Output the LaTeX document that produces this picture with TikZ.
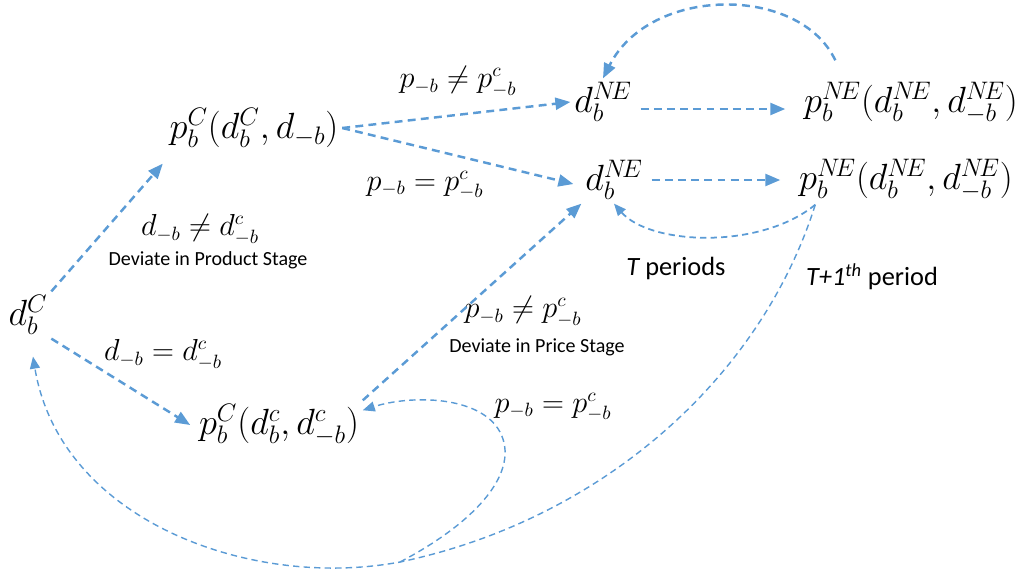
\documentclass[tikz,border=0pt]{standalone}
\usepackage{fontspec}
\newfontfamily\calib{Carlito}
\usetikzlibrary{arrows.meta}
\definecolor{sky}{RGB}{91,155,213}
\tikzset{
  >={Triangle[length=3mm,width=2.4mm]},
  state/.style={font=\fontsize{20.5}{24}\selectfont,inner sep=2pt},
  cond/.style={font=\fontsize{16}{18}\selectfont,inner sep=0pt},
  note/.style={font=\calib\fontsize{11.4}{13}\selectfont,inner sep=0pt},
  period/.style={font=\calib\fontsize{15}{17}\selectfont,inner sep=0pt},
  flow/.style={->,draw=sky,line width=1.4pt,dash pattern=on 4.5pt off 3pt},
  back/.style={-{Triangle[length=2.4mm,width=2mm]},draw=sky,line width=0.8pt,
    dash pattern=on 3.6pt off 2.4pt},
}

\begin{document}
\begin{tikzpicture}[x=0.2mm,y=-0.2mm]
  \useasboundingbox (0,0) rectangle (1026,576);
  % states
  \node[state] (dC)   at (28,315)  {$d_b^C$};
  \node[state] (pCa)  at (254,128) {$p_b^C(d_b^C,d_{-b})$};
  \node[state] (pCb)  at (279,425) {$p_b^C(d_b^c,d^c_{-b})$};
  \node[state] (dNEa) at (603,102) {$d_b^{N\!E}$};
  \node[state] (dNEb) at (614,180) {$d_b^{N\!E}$};
  \node[state] (pNEa) at (911,103) {$p_b^{N\!E}(d_b^{N\!E},d_{-b}^{N\!E})$};
  \node[state] (pNEb) at (906,180) {$p_b^{N\!E}(d_b^{N\!E},d_{-b}^{N\!E})$};
  % conditions
  \node[cond] (pneqTop) at (458,82)  {$p_{-b}\neq p^c_{-b}$};
  \node[cond] (peqTop)  at (425,185) {$p_{-b}=p^c_{-b}$};
  \node[cond] (dneq)    at (200,230) {$d_{-b}\neq d^c_{-b}$};
  \node[note] (devProd) at (208,260) {Deviate in Product Stage};
  \node[cond] (deq)     at (163,355) {$d_{-b}=d^c_{-b}$};
  \node[cond] (pneqBot) at (523,312) {$p_{-b}\neq p^c_{-b}$};
  \node[note] (devPrice) at (537,347) {Deviate in Price Stage};
  \node[cond] (peqBot)  at (553,407) {$p_{-b}=p^c_{-b}$};
  \node[period] (tPer)  at (676,268) {\itshape T\upshape\ periods};
  \node[period] (tNext) at (872,277) {\itshape T+1\textsuperscript{th}\upshape\ period};
  % transitions
  \draw[flow] (dC.north east) -- ([shift={(-3,12)}]pCa.south west);
  \draw[flow] (dC.south east) -- ([xshift=-1mm]pCb.west);
  \draw[flow] (pCa.east) -- (dNEa.west);
  \draw[flow] (pCa.east) -- ([shift={(-8,4)}]dNEb.west);
  \draw[flow] (pCb.north east) -- (dNEb.south west);
  \draw[flow,shorten <=1mm,shorten >=3mm] ([yshift=-1.4mm]dNEa.east) -- ([yshift=-1.4mm]dNEa.east -| pNEa.west);
  \draw[flow,shorten <=1mm,shorten >=3mm] (dNEb.east) -- (dNEb.east -| pNEb.west);
  \draw[flow] ([shift={(35,-18)}]pNEa.north west) .. controls (800,-15) and (650,-15) .. (dNEa.north);
  % repeated play
  \coordinate (tail) at ([shift={(20,0)}]pNEb.south west);
  \coordinate (merge) at (400,562);
  \draw[back,line width=1pt] (tail) .. controls (760,250) and (650,245) .. (dNEb.south);
  \draw[back] (tail) .. controls (760,380) and (600,520) .. (merge)
    .. controls (250,590) and (60,520) .. ([shift={(5,18)}]dC.south);
  \draw[back] (merge) .. controls (480,520) and (520,470) .. (500,432)
    .. controls (480,395) and (410,395) .. (pCb.10);
\end{tikzpicture}
\end{document}
